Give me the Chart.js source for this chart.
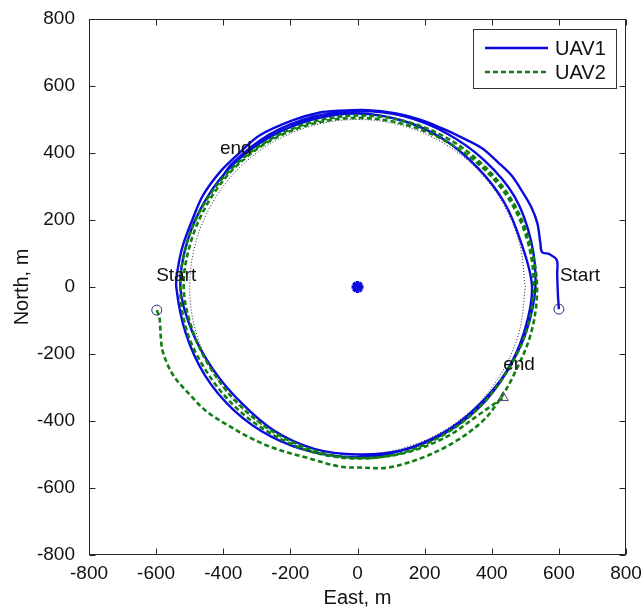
<!DOCTYPE html>
<html>
<head>
<meta charset="utf-8">
<title>UAV tracks</title>
<script src="https://cdn.jsdelivr.net/npm/chart.js@4.4.1/dist/chart.umd.min.js"></script>
<style>
  html, body { margin: 0; padding: 0; background: #fff; }
  #wrap { width: 644px; height: 614px; }
</style>
</head>
<body>
<div id="wrap"><canvas id="chart" width="644" height="614"></canvas></div>
<script>
// Axis ticks (both axes share the same range)
const tickValues = [-800, -600, -400, -200, 0, 200, 400, 600, 800];

// UAV1 track (East, North) in metres
const uav1Track = [
    [600, -66], [597, -20], [595, 40], [594, 80], [572, 98], [550, 104], [545, 130],
    [536, 190], [519, 236], [492, 283], [458, 334], [418, 373], [370, 415], [311, 446],
    [251, 474], [191, 498], [111, 519], [30, 528], [-60, 526], [-112, 521], [-192, 498],
    [-291, 453], [-350, 402], [-410, 343], [-460, 274], [-490, 206], [-520, 125], [-535, 57],
    [-540, 0], [-512, -137], [-455, -263], [-368, -368], [-258, -446], [-132, -493],
    [0, -508], [131, -488], [253, -437], [357, -357], [442, -255], [497, -133], [520, 0],
    [488, 131], [437, 253], [357, 357], [255, 442], [133, 497], [0, 518], [-134, 500],
    [-259, 449], [-368, 368], [-452, 261], [-507, 136], [-528, 0], [-493, -132],
    [-429, -248], [-346, -346], [-248, -429], [-129, -483], [0, -500], [131, -488],
    [254, -440], [361, -361], [443, -256], [502, -135], [530, 0], [517, 138], [468, 270],
    [378, 378], [265, 459], [137, 510], [0, 525], [-136, 507], [-263, 455], [-371, 371],
    [-410, 318]
];

// UAV2 track (East, North) in metres
const uav2Track = [
    [-598, -69], [-590, -92], [-586, -150], [-580, -194], [-550, -262], [-499, -322],
    [-449, -372], [-389, -411], [-320, -450], [-252, -480], [-150, -510], [-52, -536],
    [7, -539], [91, -539], [192, -510], [290, -462], [371, -402], [419, -343],
    [463, -268], [517, -138], [535, 0], [512, 137], [457, 264], [369, 369], [259, 449],
    [133, 497], [0, 512], [-132, 493], [-256, 443], [-364, 364], [-450, 260], [-507, 136],
    [-528, 0], [-507, -136], [-446, -258], [-361, -361], [-254, -440], [-132, -493],
    [0, -512], [133, -495], [255, -442], [361, -361], [443, -256], [502, -135], [525, 0],
    [507, 136], [452, 261], [364, 364], [254, 440], [131, 488], [0, 505], [-131, 488],
    [-254, 440], [-361, 361], [-443, 256], [-497, 133], [-518, 0], [-491, -131],
    [-433, -250], [-352, -352], [-250, -433], [-131, -488], [0, -510], [133, -497],
    [260, -450], [373, -373], [434, -330]
];

// Commanded circle, radius 500 m
const refCircle = [
    [500, 0], [483, 129], [433, 250], [354, 354], [250, 433], [129, 483], [0, 500],
    [-129, 483], [-250, 433], [-354, 354], [-433, 250], [-483, 129], [-500, 0],
    [-483, -129], [-433, -250], [-354, -354], [-250, -433], [-129, -483], [0, -500],
    [129, -483], [250, -433], [354, -354], [433, -250], [483, -129], [500, 0]
];

const startPoints = [[600, -66], [-598, -69]];
const endPoints = [[434, -330]];
const centrePoint = [[0, 0]];

// Text labels placed on the plot
const noteTexts = ['Start', 'Start', 'end', 'end'];
const noteX = [603, -600, -410, 434];
const noteY = [34, 34, 414, -232];

const seriesNames = ['UAV1', 'UAV2'];
const BLUE = '#0b0be0';
const GREEN = '#107e10';
const FONT = '"Liberation Sans", Arial, sans-serif';

const toXY = pts => pts.map(p => ({ x: p[0], y: p[1] }));

// Frame with inward ticks, legend box and text notes (MATLAB look)
const matlabDecor = {
    id: 'matlabDecor',
    afterDatasetsDraw(chart) {
        const { ctx, chartArea: a, scales } = chart;
        const L = Math.round(a.left) + 0.5, R = Math.round(a.right) - 0.5;
        const T = Math.round(a.top) + 0.5, B = Math.round(a.bottom) - 0.5;
        ctx.save();
        ctx.strokeStyle = '#262626';
        ctx.lineWidth = 1;
        ctx.setLineDash([]);
        ctx.strokeRect(L, T, R - L, B - T);

        ctx.beginPath();
        tickValues.forEach(v => {
            const px = Math.round(scales.x.getPixelForValue(v)) + 0.5;
            const py = Math.round(scales.y.getPixelForValue(v)) + 0.5;
            ctx.moveTo(px, B); ctx.lineTo(px, B - 6);
            ctx.moveTo(px, T); ctx.lineTo(px, T + 6);
            ctx.moveTo(L, py); ctx.lineTo(L + 6, py);
            ctx.moveTo(R, py); ctx.lineTo(R - 6, py);
        });
        ctx.stroke();

        // text notes
        ctx.fillStyle = '#111';
        ctx.font = '19px ' + FONT;
        ctx.textAlign = 'left';
        ctx.textBaseline = 'middle';
        noteTexts.forEach((t, i) => {
            ctx.fillText(t, scales.x.getPixelForValue(noteX[i]), scales.y.getPixelForValue(noteY[i]));
        });

        // legend box in the top right corner
        const bx = 473.5, by = 29.5, bw = 143, bh = 59;
        ctx.fillStyle = '#fff';
        ctx.fillRect(bx, by, bw, bh);
        ctx.strokeStyle = '#333';
        ctx.strokeRect(bx, by, bw, bh);
        const rows = [
            { color: BLUE, dash: [], y: 48 },
            { color: GREEN, dash: [5, 3], y: 72 }
        ];
        rows.forEach((r, i) => {
            ctx.beginPath();
            ctx.strokeStyle = r.color;
            ctx.lineWidth = 2.5;
            ctx.setLineDash(r.dash);
            ctx.moveTo(485, r.y);
            ctx.lineTo(548, r.y);
            ctx.stroke();
            ctx.setLineDash([]);
            ctx.fillStyle = '#111';
            ctx.font = '20px ' + FONT;
            ctx.fillText(seriesNames[i], 555, r.y + 1);
        });
        ctx.restore();
    }
};

const axisCommon = {
    type: 'linear',
    min: -800,
    max: 800,
    grid: { display: false },
    border: { display: false },
    ticks: {
        stepSize: 200,
        color: '#111',
        font: { family: FONT, size: 19 },
        padding: 6,
        maxRotation: 0,
        autoSkip: false
    }
};

new Chart(document.getElementById('chart'), {
    type: 'scatter',
    data: {
        datasets: [
            {
                label: 'start',
                data: toXY(startPoints),
                pointStyle: 'circle',
                pointRadius: 5,
                borderColor: '#2b2b7a',
                backgroundColor: 'rgba(255,255,255,0)',
                borderWidth: 1,
                order: 0
            },
            {
                label: 'end',
                data: toXY(endPoints),
                pointStyle: 'triangle',
                pointRadius: 6,
                borderColor: '#4a4a66',
                backgroundColor: 'rgba(255,255,255,0)',
                borderWidth: 1,
                order: 0
            },
            {
                label: 'centre',
                data: toXY(centrePoint),
                pointStyle: 'star',
                pointRadius: 6,
                borderColor: BLUE,
                backgroundColor: BLUE,
                borderWidth: 3.5,
                order: 0
            },
            {
                label: seriesNames[1],
                data: toXY(uav2Track),
                showLine: true,
                tension: 0.34,
                pointRadius: 0,
                borderColor: GREEN,
                borderWidth: 2.6,
                borderDash: [5, 3],
                fill: false,
                order: 1
            },
            {
                label: seriesNames[0],
                data: toXY(uav1Track),
                showLine: true,
                tension: 0.34,
                pointRadius: 0,
                borderColor: BLUE,
                borderWidth: 2.4,
                fill: false,
                order: 2
            },
            {
                label: 'reference',
                data: toXY(refCircle),
                showLine: true,
                tension: 0.34,
                pointRadius: 0,
                borderColor: '#222',
                borderWidth: 1,
                borderDash: [1, 2],
                fill: false,
                order: 3
            }
        ]
    },
    options: {
        responsive: false,
        animation: false,
        layout: { padding: { top: 19, right: 18, left: 0, bottom: 0 } },
        plugins: {
            legend: { display: false },
            tooltip: { enabled: false }
        },
        scales: {
            x: {
                ...axisCommon,
                position: 'bottom',
                ticks: { ...axisCommon.ticks, padding: -1 },
                title: {
                    display: true,
                    text: 'East, m',
                    color: '#111',
                    font: { family: FONT, size: 20 },
                    padding: { top: 0, bottom: 4 }
                },
                afterFit(scale) { scale.height = 59; }
            },
            y: {
                ...axisCommon,
                position: 'left',
                title: {
                    display: true,
                    text: 'North, m',
                    color: '#111',
                    font: { family: FONT, size: 20 },
                    padding: { top: 10, bottom: 0 }
                },
                afterFit(scale) { scale.width = 89; }
            }
        }
    },
    plugins: [matlabDecor]
});
</script>
</body>
</html>
